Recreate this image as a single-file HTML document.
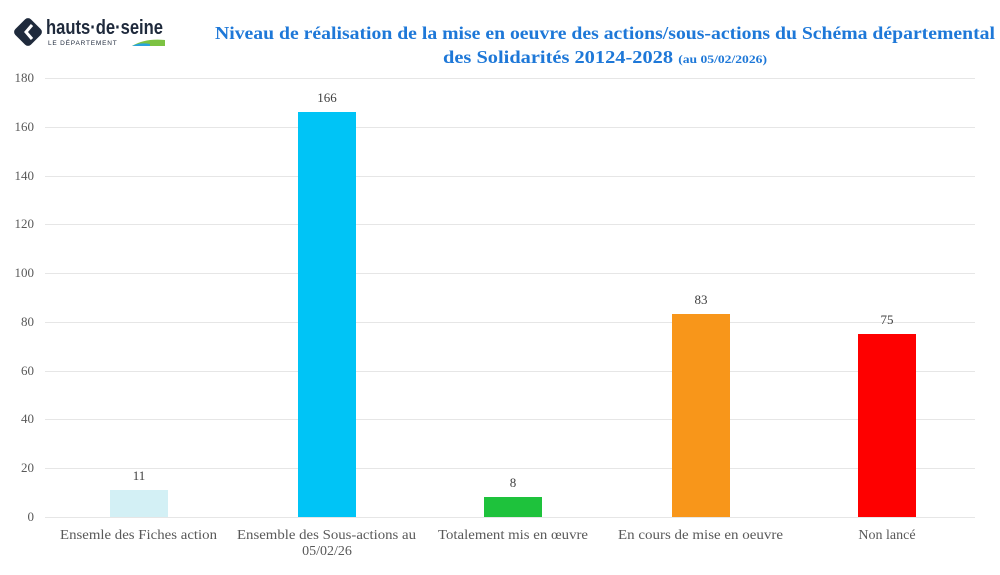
<!DOCTYPE html>
<html><head><meta charset="utf-8"><style>
body{margin:0;width:1000px;height:570px;background:#fff;overflow:hidden;font-family:"Liberation Serif",serif;}
</style></head><body>
<svg width="1000" height="570" xmlns="http://www.w3.org/2000/svg" font-family="Liberation Serif, serif">
<!-- logo -->
<g transform="translate(28,32) rotate(45)"><rect x="-11" y="-11" width="22" height="22" rx="4" fill="#1f2a3c"/></g>
<path d="M32 25 L26 32 L32 39" stroke="#fff" stroke-width="3" fill="none"/>
<text x="46" y="34" font-family="Liberation Sans, sans-serif" font-size="20" font-weight="bold" fill="#1f2a3c" textLength="117" lengthAdjust="spacingAndGlyphs">hauts·de·seine</text>
<text x="48" y="45" font-family="Liberation Sans, sans-serif" font-size="6.5" fill="#1f2a3c" letter-spacing="0.8">LE DÉPARTEMENT</text>
<path d="M132 46 Q145 38 165 40 L165 46 Z" fill="#7cc242"/><path d="M132 46 Q140 42 150 44 L150 46 Z" fill="#29a3dd"/>
<!-- title -->
<text x="215" y="39" font-size="18" font-weight="bold" fill="#1e78d8" textLength="780" lengthAdjust="spacingAndGlyphs">Niveau de réalisation de la mise en oeuvre des actions/sous-actions du Schéma départemental</text>
<text x="443" y="63" font-size="18" font-weight="bold" fill="#1e78d8" textLength="324" lengthAdjust="spacingAndGlyphs">des Solidarités 20124-2028 <tspan font-size="12">(au 05/02/2026)</tspan></text>
<!-- grid -->
<g stroke="#e6e6e6" stroke-width="1">
<line x1="45" x2="975" y1="78.5" y2="78.5"/><line x1="45" x2="975" y1="127.5" y2="127.5"/><line x1="45" x2="975" y1="176.5" y2="176.5"/><line x1="45" x2="975" y1="224.5" y2="224.5"/><line x1="45" x2="975" y1="273.5" y2="273.5"/><line x1="45" x2="975" y1="322.5" y2="322.5"/><line x1="45" x2="975" y1="371.5" y2="371.5"/><line x1="45" x2="975" y1="419.5" y2="419.5"/><line x1="45" x2="975" y1="468.5" y2="468.5"/><line x1="45" x2="975" y1="517.5" y2="517.5"/>
</g>
<g font-size="13" fill="#595959" text-anchor="end">
<text x="34" y="82">180</text><text x="34" y="131">160</text><text x="34" y="180">140</text><text x="34" y="228">120</text><text x="34" y="277">100</text><text x="34" y="326">80</text><text x="34" y="375">60</text><text x="34" y="423">40</text><text x="34" y="472">20</text><text x="34" y="521">0</text>
</g>
<!-- bars -->
<rect x="110" y="490" width="58" height="27" fill="#d3f0f5"/>
<rect x="298" y="112" width="58" height="405" fill="#00c4f6"/>
<rect x="484" y="497" width="58" height="20" fill="#1ec23c"/>
<rect x="672" y="314" width="58" height="203" fill="#f8961a"/>
<rect x="858" y="334" width="58" height="183" fill="#fe0000"/>
<g font-size="13" fill="#404040" text-anchor="middle">
<text x="139" y="480">11</text><text x="327" y="102">166</text><text x="513" y="487">8</text><text x="701" y="304">83</text><text x="887" y="324">75</text>
</g>
<g font-size="14" fill="#595959">
<text x="60" y="539" textLength="157" lengthAdjust="spacingAndGlyphs">Ensemle des Fiches action</text>
<text x="237" y="539" textLength="179" lengthAdjust="spacingAndGlyphs">Ensemble des Sous-actions au</text><text x="327" y="555" text-anchor="middle">05/02/26</text>
<text x="438" y="539" textLength="150" lengthAdjust="spacingAndGlyphs">Totalement mis en œuvre</text>
<text x="618" y="539" textLength="165" lengthAdjust="spacingAndGlyphs">En cours de  mise en oeuvre</text>
<text x="887" y="539" text-anchor="middle">Non lancé</text>
</g>
</svg>
</body></html>
